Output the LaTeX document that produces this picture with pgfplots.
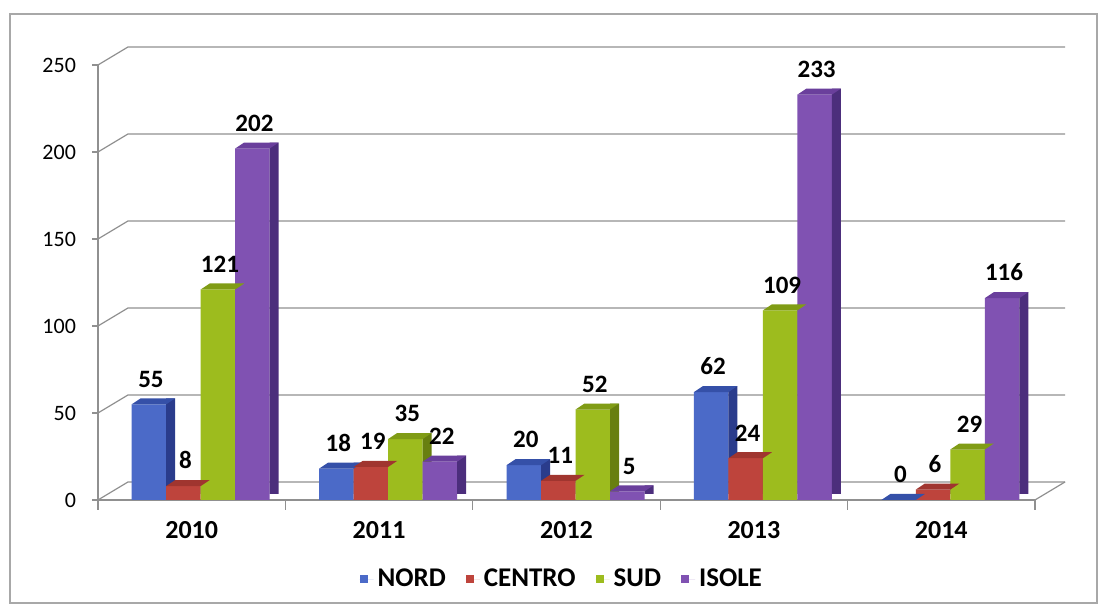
\documentclass[border=0pt]{standalone}
\usepackage{pgfplots}
\pgfplotsset{compat=1.18}
\usepackage{pgfplotstable}
\usepackage{fontspec}
\setmainfont{Carlito}

\definecolor{nordF}{HTML}{4B6AC8}
\definecolor{nordT}{HTML}{3550A8}
\definecolor{nordS}{HTML}{2A3C8C}
\definecolor{centroF}{HTML}{BE443C}
\definecolor{centroT}{HTML}{A0352F}
\definecolor{centroS}{HTML}{7A2420}
\definecolor{sudF}{HTML}{9DBC1E}
\definecolor{sudT}{HTML}{809C15}
\definecolor{sudS}{HTML}{687F10}
\definecolor{isoleF}{HTML}{8052B2}
\definecolor{isoleT}{HTML}{6A3F9C}
\definecolor{isoleS}{HTML}{4C2E7C}
\definecolor{gridc}{HTML}{909090}
\definecolor{framec}{HTML}{A8A8A8}

\pgfplotstableread{
i nord centro sud isole
0 55 8 121 202
1 18 19 35 22
2 20 11 52 5
3 62 24 109 233
4 0 6 29 116
}\data

\pgfdeclareplotmark{topface}{%
  \pgfpathmoveto{\pgfqpoint{-8.625pt}{0pt}}%
  \pgfpathlineto{\pgfqpoint{8.625pt}{0pt}}%
  \pgfpathlineto{\pgfqpoint{13.125pt}{3pt}}%
  \pgfpathlineto{\pgfqpoint{-4.125pt}{3pt}}%
  \pgfpathclose
  \pgfusepathqfill
}

\pgfplotsset{
  front/.style 2 args={ybar, bar width=17.25pt, bar shift=#1pt, fill=#2, draw=none,
    legend image code/.code={\fill[#2] (0pt,-2pt) rectangle (4pt,2pt); \path (0pt,0pt) -- (7pt,0pt);}},
  side/.style 2 args={ybar, bar width=4.5pt, bar shift=#1pt, fill=#2, draw=none, yshift=3pt, forget plot},
  top/.style 2 args={only marks, mark=topface, mark options={fill=#2, draw=none, xshift=#1pt}, forget plot,
    nodes near coords,
    nodes near coords style={font=\fontsize{12.5}{14}\selectfont\bfseries, text=black, anchor=south, xshift=1pt, yshift=5pt}},
}

\begin{document}
\begin{tikzpicture}
\useasboundingbox (0,0) rectangle (549pt,302pt);
\draw[framec, line width=0.6pt] (5pt,0.5pt) rectangle (548.5pt,295pt);
\begin{axis}[
  at={(49pt,52pt)}, anchor=south west,
  scale only axis, width=468.5pt, height=217.5pt,
  xmin=-0.5, xmax=4.5, ymin=0, ymax=250,
  clip=false,
  axis x line*=bottom, axis y line*=left,
  axis line style={draw=gridc, line width=0.6pt},
  tick align=outside,
  xtick={0,...,4}, xticklabels={2010,2011,2012,2013,2014},
  xtick style={draw=none},
  extra x ticks={-0.5,0.5,1.5,2.5,3.5,4.5}, extra x tick labels={},
  extra x tick style={xtick style={draw=gridc, line width=0.6pt}, major tick length=5pt},
  ytick={0,50,...,250}, ytick style={draw=gridc, line width=0.6pt}, major tick length=3pt,
  xticklabel style={font=\fontsize{13}{15}\selectfont\bfseries, yshift=-4pt},
  yticklabel style={font=\fontsize{11}{13}\selectfont, anchor=east, xshift=-4.5pt},
  /pgf/number format/assume math mode=true,
  legend style={at={(0.496,-0.182)}, anchor=center, draw=none, legend columns=4,
    font=\fontsize{13.5}{15}\selectfont\bfseries,
    /tikz/every even column/.append style={column sep=8pt}},
]
\pgfplotsinvokeforeach{0,50,100,150,200,250}{
  \draw[gridc, line width=0.6pt] (axis cs:-0.5,#1) -- ([xshift=15pt,yshift=9pt]axis cs:-0.5,#1) -- ([xshift=15pt,yshift=9pt]axis cs:4.5,#1);
}
\draw[gridc, line width=0.6pt] (axis cs:4.5,0) -- ([xshift=15pt,yshift=9pt]axis cs:4.5,0);

\addplot[front={-21.375}{nordF}] table[x=i,y=nord]{\data};
\addlegendentry{NORD}
\addplot[side={-10.5}{nordS}] table[x=i,y=nord]{\data};
\addplot[top={-21.375}{nordT}] table[x=i,y=nord]{\data};

\addplot[front={-4.125}{centroF}] table[x=i,y=centro]{\data};
\addlegendentry{CENTRO}
\addplot[side={6.75}{centroS}] table[x=i,y=centro]{\data};
\addplot[top={-4.125}{centroT}] table[x=i,y=centro]{\data};

\addplot[front={13.125}{sudF}] table[x=i,y=sud]{\data};
\addlegendentry{SUD}
\addplot[side={24}{sudS}] table[x=i,y=sud]{\data};
\addplot[top={13.125}{sudT}] table[x=i,y=sud]{\data};

\addplot[front={30.375}{isoleF}] table[x=i,y=isole]{\data};
\addlegendentry{ISOLE}
\addplot[side={41.25}{isoleS}] table[x=i,y=isole]{\data};
\addplot[top={30.375}{isoleT}] table[x=i,y=isole]{\data};
\end{axis}
\end{tikzpicture}
\end{document}
